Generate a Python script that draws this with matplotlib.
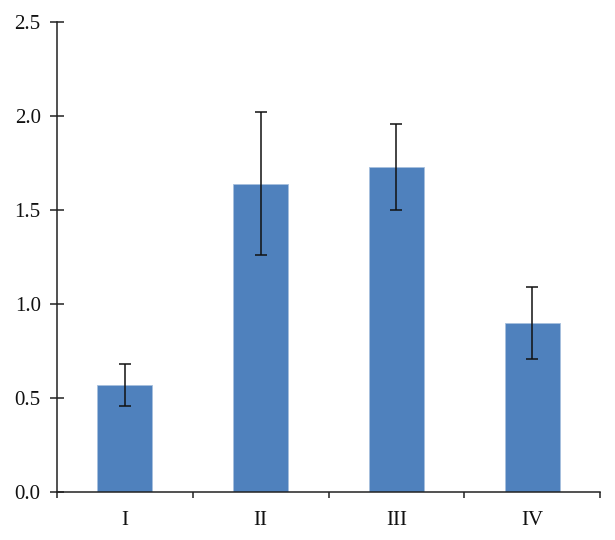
import matplotlib
matplotlib.use("Agg")
import matplotlib.pyplot as plt
import numpy as np

categories = ["I", "II", "III", "IV"]
values = [0.57, 1.64, 1.73, 0.90]
err_low = [0.46, 1.26, 1.50, 0.71]
err_high = [0.68, 2.02, 1.96, 1.09]
yticks = [0.0, 0.5, 1.0, 1.5, 2.0, 2.5]

plt.rcParams['font.family'] = ['Liberation Serif', 'DejaVu Serif']

fig = plt.figure(figsize=(6.15, 5.4), dpi=100)
ax = fig.add_axes([57/615, 48/540, (600-57)/615, (492-22)/540])

x = np.arange(len(categories))
vals = np.array(values)
yerr = np.array([vals - np.array(err_low), np.array(err_high) - vals])
ax.bar(x, vals, width=0.405, color='#4F81BD', edgecolor='#A7C0DE', linewidth=0.6, zorder=2)
ax.errorbar(x, vals, yerr=yerr, fmt='none', ecolor='#111111', elinewidth=1.1,
            capsize=4.3, capthick=1.1, zorder=3)

ax.set_xlim(-0.5, len(categories) - 0.5)
ax.set_ylim(0, 2.5)
ax.set_yticks(yticks)
ax.set_yticklabels([f"{v:.1f}" for v in yticks], fontsize=15, color='#111111')
ax.set_xticks(x)
ax.set_xticklabels(categories, fontsize=15, color='#111111')
ax.set_xticks(np.arange(len(categories) + 1) - 0.5, minor=True)

for s in ['top', 'right']:
    ax.spines[s].set_visible(False)
for s in ['left', 'bottom']:
    ax.spines[s].set_linewidth(1.1)
    ax.spines[s].set_color('#222222')

ax.tick_params(axis='y', direction='inout', length=9.5, width=1.1, color='#222222', pad=7)
ax.tick_params(axis='x', which='major', length=0, pad=14)
ax.tick_params(axis='x', which='minor', direction='out', length=4, width=1.1, color='#222222')

fig.savefig("out.png", dpi=100)
